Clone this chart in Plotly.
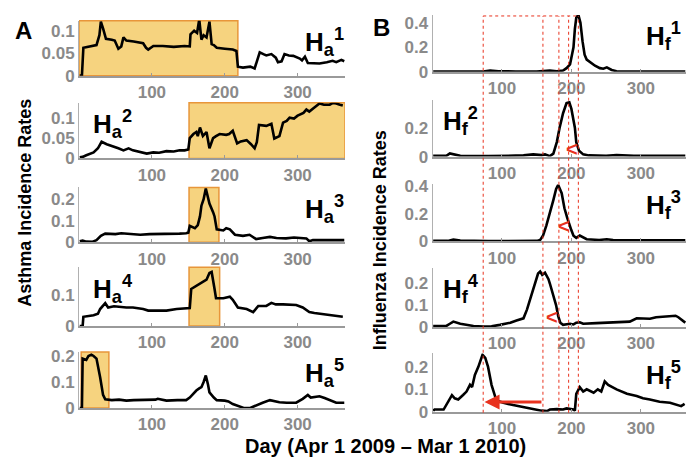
import plotly.graph_objects as go

# the page puts the plot 8px in from the top-left corner, so the figure is drawn
# 8px smaller and every image position is shifted by that offset
OFF = 8
W, H = 694 - OFF, 468 - OFF
FONT = "Liberation Sans"

# asthma series (days, rates)
ha1_days = [1, 4, 6, 15, 24, 28, 30, 33, 37, 45, 49, 54, 58, 61, 65, 75, 88, 92, 95, 102, 115, 130, 145, 152,
            153, 158, 162, 165, 168, 171, 175, 179, 182, 185, 189, 200, 211, 216, 218, 225, 235, 241, 245, 248,
            253, 257, 264, 270, 273, 278, 282, 288, 294, 300, 303, 306, 310, 314, 320, 330, 340, 348, 353, 360, 364]
ha1_vals = [0, 0, 0.062, 0.065, 0.068, 0.09, 0.12, 0.105, 0.082, 0.08, 0.078, 0.06, 0.065, 0.085, 0.078, 0.076,
            0.072, 0.062, 0.058, 0.066, 0.066, 0.064, 0.066, 0.065, 0.092, 0.1, 0.095, 0.125, 0.08, 0.09, 0.085,
            0.12, 0.07, 0.068, 0.062, 0.06, 0.058, 0.055, 0.02, 0.018, 0.02, 0.016, 0.035, 0.052, 0.048, 0.045,
            0.048, 0.04, 0.03, 0.032, 0.048, 0.045, 0.044, 0.04, 0.038, 0.034, 0.042, 0.028, 0.028, 0.027, 0.03,
            0.033, 0.03, 0.035, 0.032]

ha2_days = [1, 5, 10, 20, 26, 29, 31, 38, 47, 54, 61, 68, 74, 84, 93, 102, 110, 120, 130, 138, 145, 150, 152,
            157, 161, 163, 166, 170, 175, 179, 184, 188, 193, 202, 206, 211, 217, 222, 230, 236, 241, 244, 247,
            257, 264, 268, 275, 280, 285, 289, 295, 300, 303, 308, 312, 316, 323, 330, 336, 344, 348, 353, 358, 362]
ha2_vals = [0.003, 0.004, 0.008, 0.015, 0.025, 0.033, 0.041, 0.035, 0.03, 0.025, 0.02, 0.025, 0.02, 0.015, 0.012,
            0.015, 0.014, 0.018, 0.017, 0.02, 0.02, 0.022, 0.05, 0.06, 0.065, 0.055, 0.076, 0.055, 0.065, 0.025,
            0.05, 0.055, 0.06, 0.058, 0.06, 0.068, 0.037, 0.042, 0.045, 0.035, 0.025, 0.04, 0.082, 0.08, 0.085,
            0.049, 0.055, 0.088, 0.092, 0.1, 0.098, 0.105, 0.108, 0.112, 0.12, 0.115, 0.125, 0.135, 0.132, 0.132,
            0.136, 0.135, 0.132, 0.13]

ha3_days = [1, 5, 10, 18, 24, 30, 36, 50, 58, 65, 75, 84, 97, 110, 125, 138, 147, 150, 152, 159, 163, 166, 168,
            171, 174, 177, 179, 184, 186, 189, 198, 202, 207, 214, 225, 234, 243, 252, 262, 271, 284, 295, 303,
            312, 316, 321, 340, 364]
ha3_vals = [0.005, 0.008, 0.003, 0.002, 0.01, 0.03, 0.04, 0.038, 0.042, 0.04, 0.038, 0.035, 0.038, 0.038, 0.037,
            0.04, 0.042, 0.045, 0.076, 0.065, 0.08, 0.12, 0.17, 0.2, 0.25, 0.21, 0.18, 0.14, 0.12, 0.06, 0.055,
            0.065, 0.06, 0.035, 0.03, 0.035, 0.015, 0.02, 0.025, 0.02, 0.018, 0.022, 0.02, 0.018, 0.005, 0.01,
            0.01, 0.01]

ha4_days = [1, 5, 6, 15, 20, 26, 29, 36, 40, 48, 56, 65, 74, 88, 95, 102, 110, 120, 134, 150, 152, 154, 161, 168,
            175, 179, 182, 186, 188, 198, 207, 211, 218, 230, 239, 246, 257, 264, 270, 280, 290, 298, 307, 316,
            323, 330, 337, 344, 352, 362]
ha4_vals = [0, 0, 0.03, 0.032, 0.035, 0.04, 0.055, 0.074, 0.06, 0.064, 0.062, 0.06, 0.06, 0.055, 0.05, 0.05,
            0.048, 0.05, 0.055, 0.058, 0.058, 0.12, 0.13, 0.14, 0.15, 0.172, 0.175, 0.12, 0.09, 0.09, 0.095,
            0.085, 0.06, 0.055, 0.045, 0.065, 0.065, 0.075, 0.07, 0.07, 0.068, 0.068, 0.06, 0.045, 0.042, 0.04,
            0.036, 0.035, 0.033, 0.03]

ha5_days = [1, 4, 5, 10, 13, 17, 20, 24, 29, 33, 36, 45, 55, 65, 75, 84, 95, 105, 108, 114, 120, 135, 147, 152,
            158, 161, 165, 168, 171, 174, 177, 179, 185, 189, 200, 205, 211, 221, 226, 235, 239, 245, 252, 262,
            268, 275, 285, 298, 307, 314, 318, 324, 330, 337, 344, 353, 364]
ha5_vals = [0, 0, 0.19, 0.185, 0.2, 0.205, 0.2, 0.19, 0.118, 0.05, 0.033, 0.03, 0.032, 0.028, 0.03, 0.03, 0.03,
            0.032, 0.035, 0.03, 0.028, 0.03, 0.03, 0.04, 0.06, 0.067, 0.075, 0.08, 0.1, 0.125, 0.09, 0.06, 0.04,
            0.03, 0.028, 0.025, 0.015, 0.005, 0, 0, 0.005, 0.01, 0.02, 0.03, 0.025, 0.022, 0.02, 0.02, 0.035,
            0.05, 0.04, 0.042, 0.045, 0.038, 0.03, 0.02, 0.02]

# influenza series
hf1_days = [1, 30, 73, 83, 95, 120, 150, 169, 179, 188, 193, 198, 203, 205, 207, 210, 213, 216, 219, 222, 227,
            234, 241, 246, 251, 258, 265, 300, 364]
hf1_vals = [0.003, 0.005, 0.003, 0.01, 0.005, 0.003, 0.003, 0.01, 0.005, 0.01, 0.03, 0.06, 0.2, 0.35, 0.44,
            0.465, 0.4, 0.25, 0.14, 0.1, 0.08, 0.05, 0.03, 0.025, 0.036, 0.015, 0.005, 0.003, 0.003]

hf2_days = [1, 20, 25, 30, 40, 80, 120, 131, 145, 157, 162, 169, 174, 179, 183, 188, 193, 197, 200, 205, 207,
            211, 217, 225, 250, 265, 290, 364]
hf2_vals = [0.005, 0.005, 0.022, 0.015, 0.005, 0.003, 0.004, 0.008, 0.015, 0.01, 0.015, 0.003, 0.02, 0.1, 0.2,
            0.3, 0.37, 0.375, 0.33, 0.2, 0.1, 0.04, 0.015, 0.008, 0.005, 0.01, 0.005, 0.005]

hf3_days = [1, 22, 30, 40, 80, 150, 155, 159, 164, 169, 174, 178, 181, 186, 190, 194, 197, 200, 203, 207, 212,
            217, 222, 240, 251, 260, 300, 364]
hf3_vals = [0.003, 0.003, 0.012, 0.005, 0.002, 0.003, 0.01, 0.04, 0.116, 0.2, 0.3, 0.38, 0.41, 0.35, 0.24,
            0.17, 0.12, 0.08, 0.04, 0.025, 0.042, 0.03, 0.015, 0.01, 0.015, 0.01, 0.01, 0.008]

hf4_days = [1, 20, 25, 30, 40, 50, 59, 73, 85, 97, 112, 121, 131, 136, 143, 147, 152, 155, 158, 162, 167, 169,
            174, 178, 181, 184, 188, 198, 203, 207, 212, 217, 236, 251, 265, 284, 294, 313, 322, 341, 350, 354,
            361, 364]
hf4_vals = [0.005, 0.005, 0.015, 0.025, 0.015, 0.01, 0.005, 0.002, 0.003, 0.01, 0.02, 0.03, 0.04, 0.08, 0.15,
            0.2, 0.246, 0.255, 0.24, 0.25, 0.22, 0.2, 0.15, 0.1, 0.05, 0.02, 0.01, 0.015, 0.012, 0.02, 0.022,
            0.015, 0.018, 0.02, 0.025, 0.025, 0.04, 0.038, 0.045, 0.05, 0.052, 0.045, 0.025, 0.02]

hf5_days = [1, 3, 16, 20, 28, 32, 37, 44, 49, 54, 57, 61, 66, 72, 76, 80, 85, 92, 102, 116, 131, 145, 157, 165,
            169, 179, 188, 193, 203, 205, 207, 212, 217, 222, 232, 238, 243, 248, 253, 265, 280, 294, 303, 313,
            327, 342, 351, 358, 363]
hf5_vals = [0.005, 0.01, 0.01, 0.03, 0.074, 0.06, 0.055, 0.075, 0.09, 0.12, 0.11, 0.164, 0.2, 0.254, 0.24, 0.2,
            0.12, 0.05, 0.04, 0.03, 0.02, 0.01, 0.005, 0.003, 0.01, 0.012, 0.01, 0.015, 0.01, 0.005, 0.08, 0.11,
            0.09, 0.1, 0.085, 0.1, 0.09, 0.135, 0.12, 0.1, 0.08, 0.07, 0.06, 0.055, 0.045, 0.04, 0.03, 0.025,
            0.035]

series = [(ha1_days, ha1_vals), (ha2_days, ha2_vals), (ha3_days, ha3_vals), (ha4_days, ha4_vals),
          (ha5_days, ha5_vals), (hf1_days, hf1_vals), (hf2_days, hf2_vals), (hf3_days, hf3_vals),
          (hf4_days, hf4_vals), (hf5_days, hf5_vals)]
labels = ["H<sub>a</sub><sup>%d</sup>" % i for i in range(1, 6)] + \
         ["H<sub>f</sub><sup>%d</sup>" % i for i in range(1, 6)]

y_ranges = [0.122, 0.137, 0.255, 0.19, 0.215, 0.463, 0.39, 0.415, 0.27, 0.26]
y_ticks = [[0, 0.05, 0.1], [0, 0.05, 0.1], [0, 0.1, 0.2], [0, 0.1], [0, 0.1, 0.2],
           [0, 0.2, 0.4], [0, 0.2], [0, 0.2, 0.4], [0, 0.1, 0.2], [0, 0.1, 0.2]]

# shaded asthma windows (start day, end day)
win_start = [0, 151, 151, 151, 3]
win_end = [218, 365, 192, 193, 41]

# dotted marker days on the influenza side
window_days = [73, 159, 182, 196, 210]
# little "<" marks: panel index, day, rate
chev_panel = [7, 8, 9]
chev_day = [201, 190, 172]
chev_rate = [0.055, 0.11, 0.045]

# pixel boxes of panels (top, bottom) in image rows
left_rows = [(14, 71), (99, 157), (187, 244), (270, 331), (358, 416)]
right_rows = [(8, 67), (96.5, 155), (183.7, 243), (271, 332), (359.4, 420)]
left_cols = (79, 345)
right_cols = (432.5, 686)


def px(x):
    return (x - OFF) / W


def py(y):
    return min(1.0, 1 - (y - OFF) / H)


def ax_id(n):
    return "" if n == 1 else str(n)


fig = go.Figure()
layout = dict(width=W, height=H, margin=dict(l=0, r=0, t=0, b=0), autosize=False,
              plot_bgcolor="white", paper_bgcolor="white", showlegend=False)
shapes, annos = [], []
tickfont = dict(family=FONT, size=17, color="#8a8a8a", weight="bold")


def note(text, x, y, size, xanchor="center", angle=0):
    annos.append(dict(text="<b>%s</b>" % text, x=px(x), y=py(y), xref="paper", yref="paper",
                      xanchor=xanchor, yanchor="middle", showarrow=False, textangle=angle,
                      font=dict(family=FONT, size=size, color="black")))


for i, (d, v) in enumerate(series):
    n = i + 1
    k = ax_id(n)
    fig.add_trace(go.Scatter(x=d, y=v, mode="lines", xaxis="x" + k, yaxis="y" + k,
                             line=dict(color="black", width=2.6)))
    left = i < 5
    cols = left_cols if left else right_cols
    top, bot = (left_rows if left else right_rows)[i % 5]
    layout["xaxis" + k] = dict(domain=[px(cols[0]), px(cols[1])], range=[0, 365], anchor="y" + k,
                               tickvals=[100, 200, 300], showgrid=False, zeroline=False, showline=True,
                               linecolor="#9a9a9a", linewidth=2, ticks="inside", ticklen=3,
                               tickcolor="#9a9a9a", tickfont=tickfont)
    layout["yaxis" + k] = dict(domain=[py(bot), py(top)], range=[0, y_ranges[i]], anchor="x" + k,
                               tickvals=y_ticks[i], showgrid=False, zeroline=False, showline=True,
                               linecolor="#b0b0b0", linewidth=1, ticks="", tickfont=tickfont)
    # panel label: left side for rows 2 and 4, right side otherwise
    if i % 5 in (1, 3):
        note(labels[i], 91 if left else 441, top + 22, 26, xanchor="left")
    else:
        note(labels[i], 346 if left else 683, top + 22, 26, xanchor="right")
    if left:
        shapes.append(dict(type="rect", xref="x" + k, yref="y%s domain" % k, x0=win_start[i], x1=win_end[i],
                           y0=0, y1=1, fillcolor="#F6D37F", line=dict(color="#E8963A", width=1.5),
                           layer="below"))

# red dotted guides across the influenza column
red = "#E8321E"
for d in window_days:
    shapes.append(dict(type="line", xref="x6", yref="paper", x0=d, x1=d, y0=py(421), y1=py(9),
                       line=dict(color=red, width=1, dash="dot")))
shapes.append(dict(type="line", xref="x6", yref="paper", x0=window_days[0], x1=window_days[-1],
                   y0=py(9), y1=py(9), line=dict(color=red, width=1, dash="dot")))

annos.append(dict(x=window_days[0] + 2, y=0.043, ax=window_days[1], ay=0.043, xref="x10", yref="y10",
                  axref="x10", ayref="y10", text="", showarrow=True, arrowhead=2, arrowsize=1,
                  arrowwidth=3, arrowcolor=red))
for p, d, r in zip(chev_panel, chev_day, chev_rate):
    annos.append(dict(text="<b><</b>", x=d, y=r, xref="x%d" % p, yref="y%d" % p, showarrow=False,
                      xanchor="center", yanchor="middle", font=dict(family=FONT, size=20, color=red)))

# panel letters and titles
note("A", 23, 24, 24)
note("B", 381, 21, 24)
note("Asthma Incidence Rates", 25, 203, 18, angle=-90)
note("Influenza Incidence Rates", 380, 242, 18, angle=-90)
note("Day (Apr 1 2009 \u2013 Mar 1 2010)", 385, 456, 20)

layout["shapes"] = shapes
layout["annotations"] = annos
fig.update_layout(**layout)
fig.write_html("out.html")
